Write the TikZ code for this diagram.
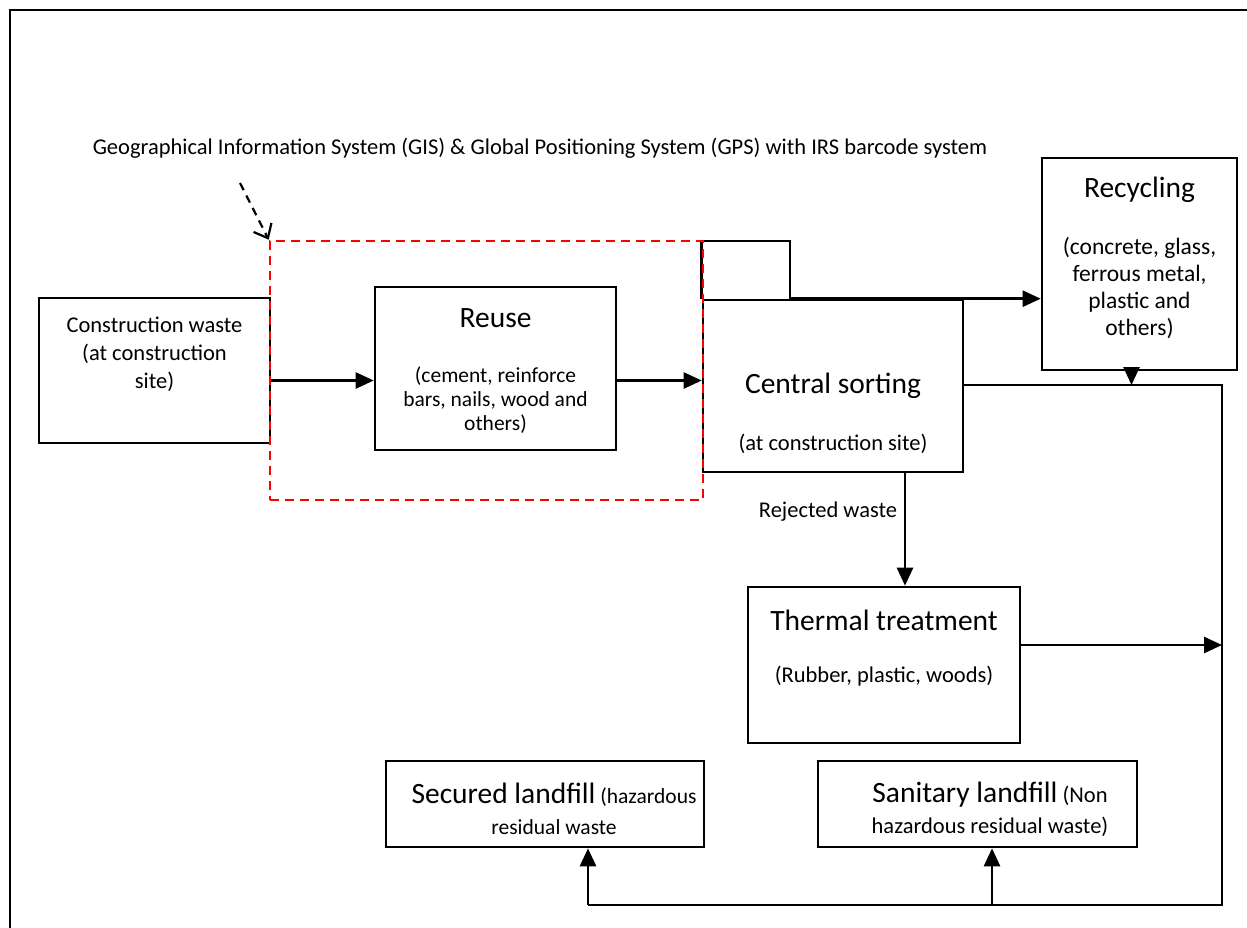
\documentclass[tikz,border=0pt]{standalone}
\usepackage{fontspec}
\setmainfont{Carlito}
\usetikzlibrary{arrows.meta}
\begin{document}
\begin{tikzpicture}[x=1pt,y=-1pt,
  box/.style={draw,line width=2.6pt,inner sep=0pt},
  arr/.style={line width=2.6pt,-{Triangle[length=18pt,width=16pt]}},
  ttl/.style={font=\fontsize{29.5}{34}\selectfont,inner sep=0pt},
  bdy/.style={font=\fontsize{22.5}{27}\selectfont,align=center,inner sep=0pt},
  small/.style={font=\fontsize{22.5}{24}\selectfont,align=center,inner sep=0pt}]
\useasboundingbox (0,0) rectangle (1247,928);
\draw[line width=2.6pt] (10,928) -- (10,10) -- (1247,10);

% boxes
\node[box,minimum width=231pt,minimum height=145pt] (cw) at (154.5,370.5) {};
\node[box,minimum width=241pt,minimum height=163pt] (reuse) at (495.5,368.5) {};
\node[box,minimum width=260pt,minimum height=172pt] (cs) at (833,386) {};
\node[box,minimum width=195pt,minimum height=212pt] (rec) at (1139.5,264) {};
\node[box,minimum width=272pt,minimum height=156pt] (th) at (884,665) {};
\node[box,minimum width=318pt,minimum height=86pt] (sec) at (545,804) {};
\node[box,minimum width=319pt,minimum height=86pt] (san) at (977.5,804) {};

% texts
\node[bdy,font=\fontsize{22.5}{28}\selectfont] (cwt) at (154.5,354) {Construction waste\\(at construction\\site)};
\node[ttl] (reuset) at (495.5,318) {Reuse};
\node[small,font=\fontsize{21.5}{24}\selectfont] (reuseb) at (495.5,400) {(cement, reinforce\\bars, nails, wood and\\others)};
\node[ttl] (cst) at (833,386) {Central sorting};
\node[small] (csb) at (833,444) {(at construction site)};
\node[ttl] (rect) at (1139.5,190) {Recycling};
\node[bdy,font=\fontsize{23.5}{27}\selectfont] (recb) at (1139.5,288) {(concrete, glass,\\ferrous metal,\\plastic and\\others)};
\node[ttl] (tht) at (884,620) {Thermal treatment};
\node[small] (thb) at (884,676) {(Rubber, plastic, woods)};
\node[inner sep=0pt,align=center,font=\fontsize{21.5}{31}\selectfont] (sect) at (554,809)
  {{\fontsize{29.5}{31}\selectfont Secured landfill} (hazardous\\residual waste};
\node[inner sep=0pt,align=center,font=\fontsize{22.5}{31}\selectfont] (sant) at (990,809)
  {{\fontsize{29.5}{31}\selectfont Sanitary landfill} (Non\\hazardous residual waste)};
\node[small] (gis) at (540,148) {Geographical Information System (GIS) \& Global Positioning System (GPS) with IRS barcode system};
\node[small] (rej) at (828,512) {Rejected waste};

% routing points
\coordinate (lp) at (790,241);
\coordinate (c1) at (1222,385);
\coordinate (c2) at (1222,905);
\coordinate (g0) at (240,183);
\coordinate (s1) at ([xshift=43pt]sec.south);
\coordinate (s2) at ([xshift=14.5pt]san.south);
\coordinate (r1) at ([xshift=-8pt]rec.south);

% connectors
\draw[arr] ([yshift=-10pt]cw.east) -- ([yshift=-10pt]cw.east -| reuse.west);
\draw[arr] ([yshift=-12pt]reuse.east) -- ([yshift=-12pt]reuse.east -| cs.west);
\draw[arr] (cs.north west) |- (lp) |- (rec.west |- cs.north);
\draw[line width=2.6pt] (cs.east |- c1) -- (c1) -- (c2) -- (c2 -| s1);
\draw[arr] (s1 |- c2) -- (s1);
\draw[arr] (s2 |- c2) -- (s2);
\draw[arr] (r1) -- (r1 |- c1);
\draw[arr] ([yshift=20pt]th.east) -- ([yshift=20pt]th.east -| c1);
\draw[arr] ([xshift=72pt]cs.south) -- ([xshift=72pt]cs.south |- th.north);

% dashed red zone drawn on top
\node[draw=red,dash pattern=on 9pt off 6pt,line width=2.6pt,inner sep=0pt,
      minimum width=433pt,minimum height=259pt] (zone) at (486.5,370.5) {};
\draw[line width=2.2pt,dash pattern=on 8pt off 6pt,-{Straight Barb[length=12pt,width=20pt]}] (g0) -- (zone.north west);
\end{tikzpicture}
\end{document}
